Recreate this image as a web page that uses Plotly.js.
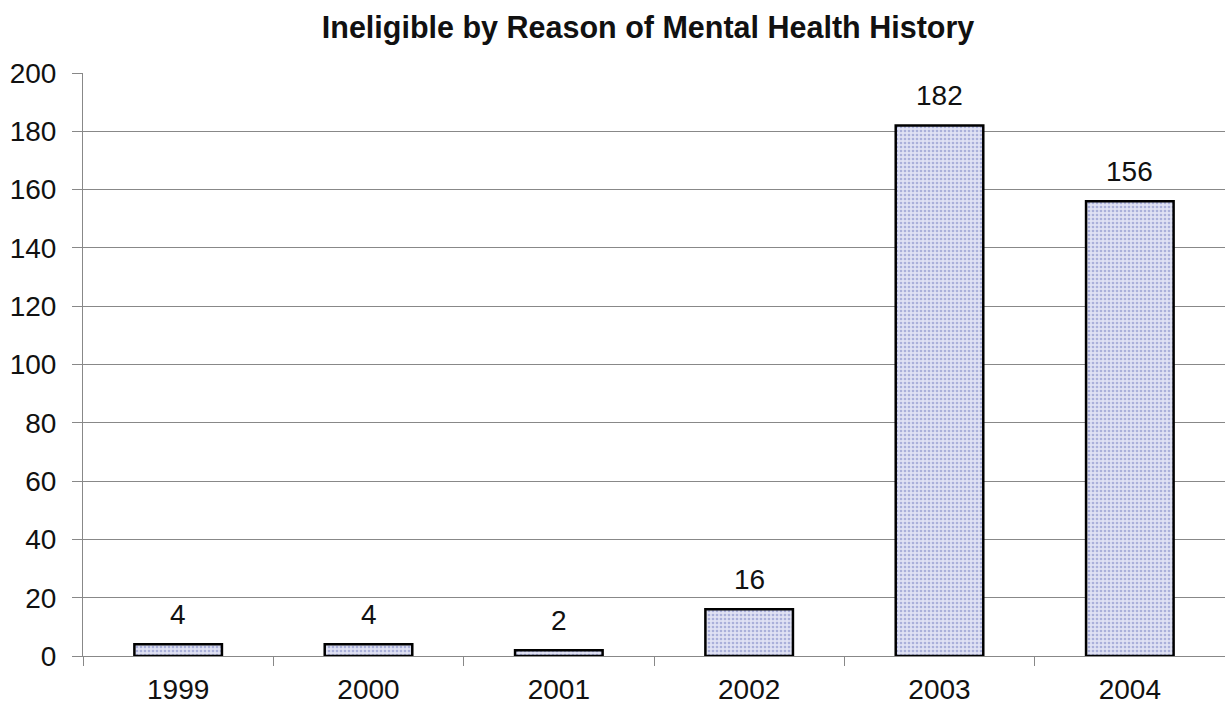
<!DOCTYPE html>
<html>
<head>
<meta charset="utf-8">
<script src="https://cdn.plot.ly/plotly-3.0.1.min.js"></script>
<style>html,body{margin:0;padding:0;background:#fff}#chart{width:1225px;height:712px}</style>
</head>
<body>
<div id="chart"></div>
<script>
const years = ['1999', '2000', '2001', '2002', '2003', '2004'];
const counts = [4, 4, 2, 16, 182, 156];
const yTicks = [0, 20, 40, 60, 80, 100, 120, 140, 160, 180, 200];
const chartTitle = 'Ineligible by Reason of Mental Health History';

const font = 'Arial, "Liberation Sans", sans-serif';

const trace = {
  type: 'bar',
  x: years,
  y: counts,
  width: 0.46,
  marker: {
    color: '#d6d8f0',
    line: {color: '#000', width: 2.5},
    pattern: {shape: '.', bgcolor: '#e0e2f4', fgcolor: '#aab0da', size: 4, solidity: 0.35}
  },
  hoverinfo: 'x+y'
};

const annotations = years.map((yr, i) => ({
  x: i, y: counts[i], text: String(counts[i]),
  xref: 'x', yref: 'y',
  showarrow: false, yanchor: 'middle', yshift: 30,
  font: {family: font, size: 28, color: '#111'}
}));

const layout = {
  width: 1225, height: 712,
  margin: {l: 83, r: 0, t: 73, b: 56},
  paper_bgcolor: '#fff', plot_bgcolor: '#fff',
  title: {text: '<b>' + chartTitle + '</b>', x: 0.529, xanchor: 'center', y: 0.962, yanchor: 'middle',
          font: {family: font, size: 30.5, color: '#111'}},
  showlegend: false,
  xaxis: {
    type: 'category',
    categoryorder: 'array', categoryarray: years,
    range: [-0.5, years.length - 0.5],
    tickson: 'boundaries',
    ticks: 'outside', ticklen: 9, tickcolor: '#888', tickwidth: 1,
    showline: true, linecolor: '#888', linewidth: 1,
    showgrid: false, zeroline: false,
    tickangle: 0,
    tickfont: {family: font, size: 28, color: '#111'},
    ticklabelstandoff: 8
  },
  yaxis: {
    range: [0, 200],
    tickvals: yTicks,
    ticks: 'outside', ticklen: 10, tickcolor: '#888', tickwidth: 1,
    showline: true, linecolor: '#888', linewidth: 1,
    showgrid: true, gridcolor: '#888', gridwidth: 1,
    zeroline: false,
    tickfont: {family: font, size: 28, color: '#111'},
    ticklabelstandoff: 10
  },
  annotations: annotations
};

Plotly.newPlot('chart', [trace], layout, {displayModeBar: false, staticPlot: true});
</script>
</body>
</html>
